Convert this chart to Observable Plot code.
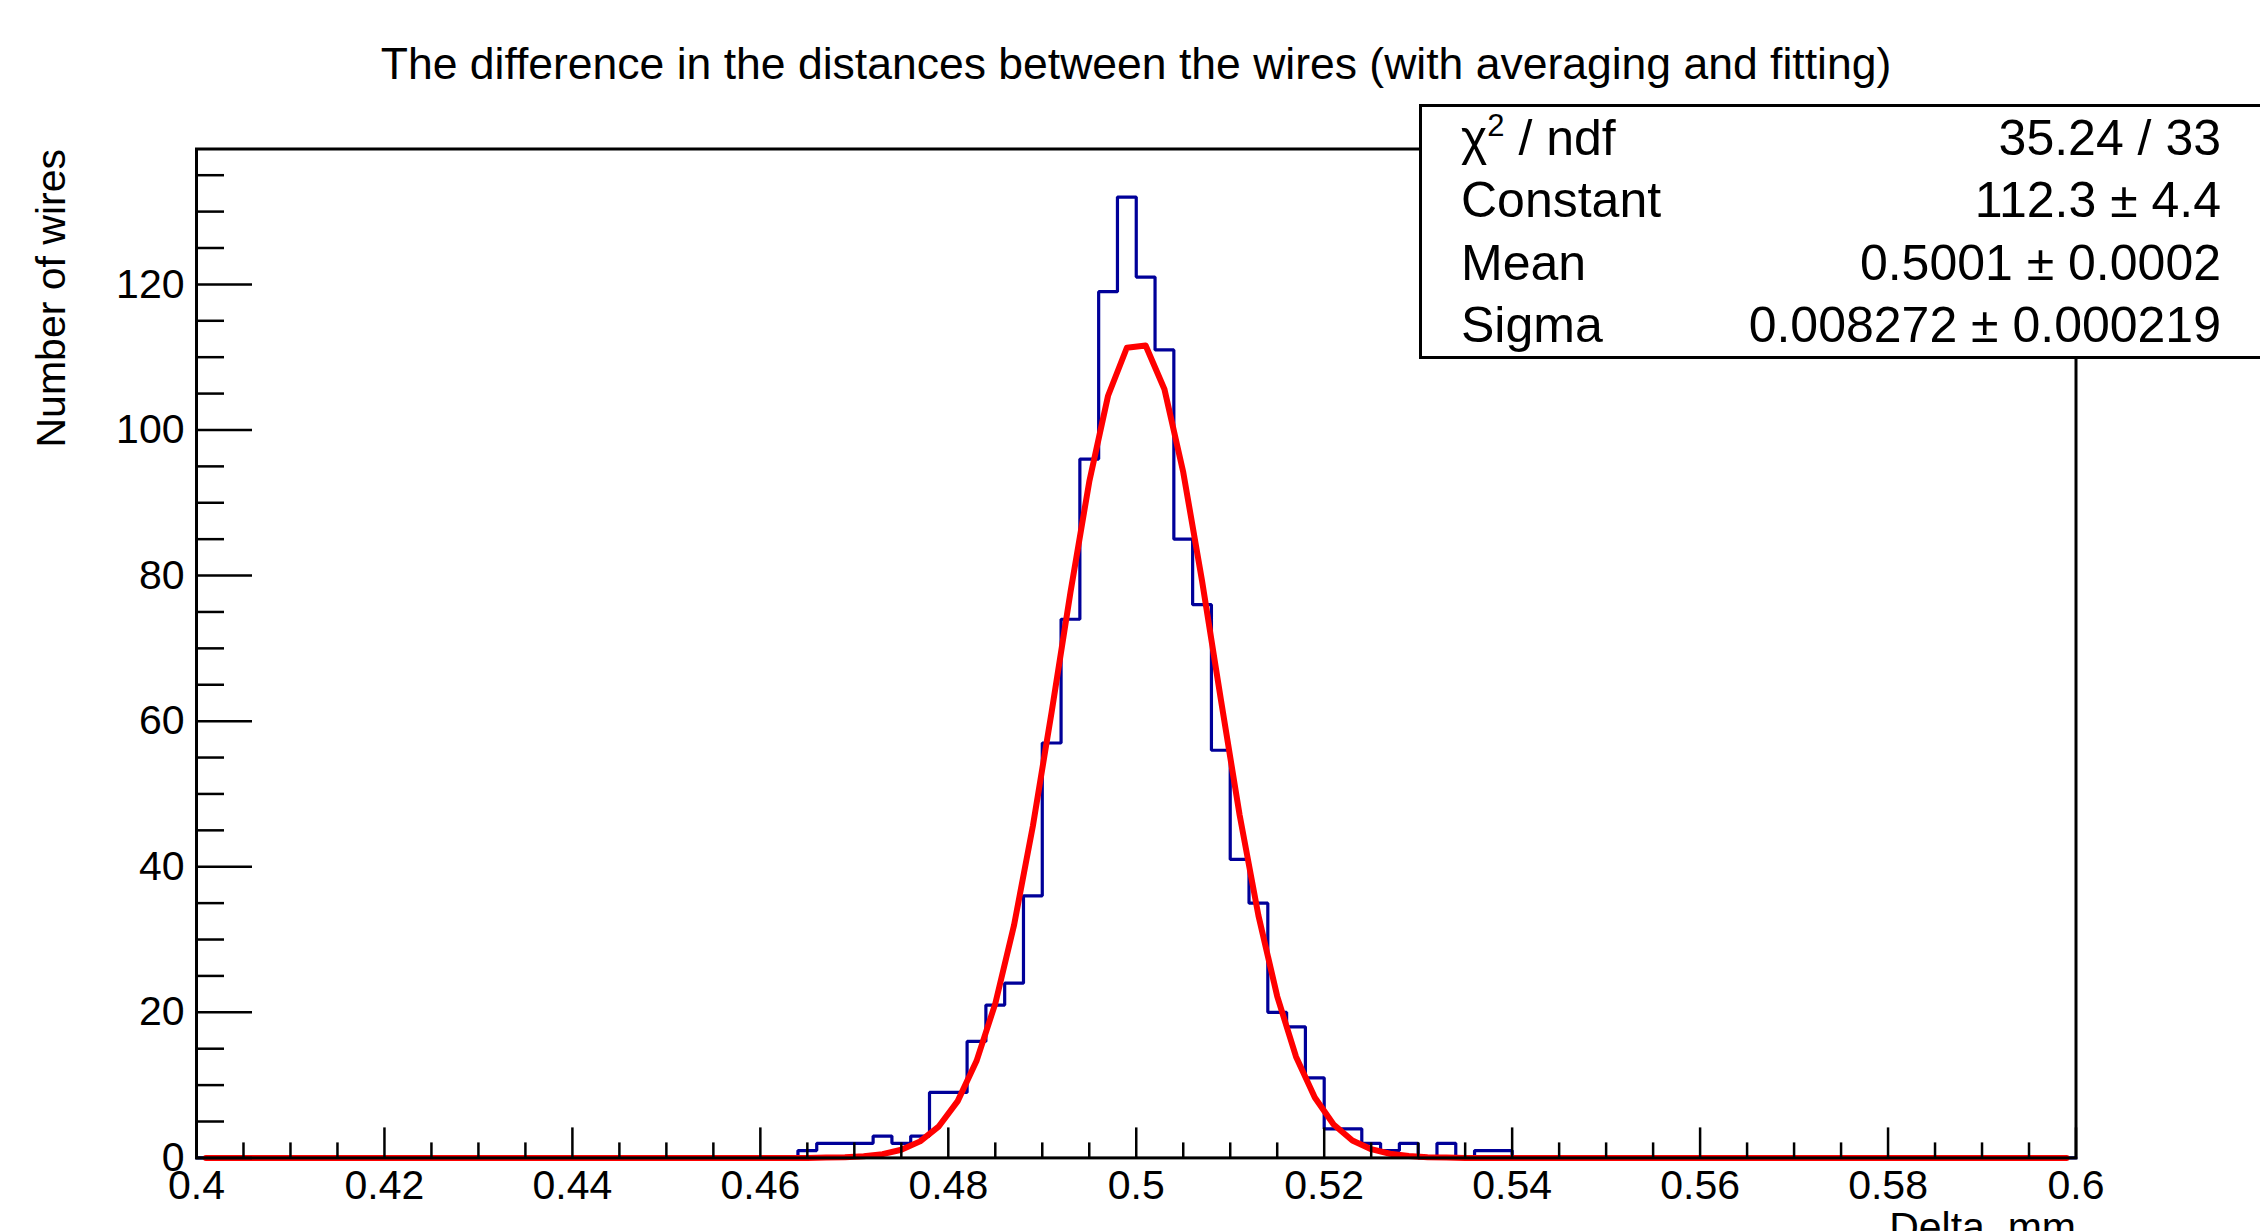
<!DOCTYPE html>
<html>
<head>
<meta charset="utf-8">
<script src="https://cdn.jsdelivr.net/npm/d3@7"></script>
<script src="https://cdn.jsdelivr.net/npm/@observablehq/plot@0.6"></script>
<style>
html, body { margin: 0; padding: 0; background: #fff; overflow: hidden; }
#wrap { position: relative; width: 2260px; height: 1231px; font-family: "Liberation Sans", Arial, sans-serif; color: #000; overflow: hidden; }
#chart { position: absolute; left: 0; top: 0; }
#title { position: absolute; left: 0; width: 2272px; top: 42px; text-align: center; font-size: 44.5px; line-height: 44px; white-space: nowrap; }
#stats { position: absolute; left: 1419px; top: 104px; width: 950px; height: 255px; box-sizing: border-box; border: 3px solid #000; background: #fff; }
.row { position: relative; height: 62.25px; line-height: 62.25px; font-size: 50px; white-space: nowrap; }
.row .k { position: absolute; left: 39px; top: 0; }
.row .v { position: absolute; left: 0; width: 799px; top: 0; text-align: right; }
.row sup { font-size: 0.62em; line-height: 0; vertical-align: 0.62em; }
</style>
</head>
<body>
<div id="wrap">
  <div id="chart"></div>
  <div id="title"></div>
  <div id="stats"></div>
</div>
<script>
// ---- data ----
const titleText = "The difference in the distances between the wires (with averaging and fitting)";
const xLabel = "Delta, mm";
const yLabel = "Number of wires";

// histogram: lower bin edges (bin width 0.002) and counts (non-empty region)
const binLow = [0.464, 0.466, 0.468, 0.470, 0.472, 0.474, 0.476, 0.478, 0.480, 0.482,
                0.484, 0.486, 0.488, 0.490, 0.492, 0.494, 0.496, 0.498, 0.500, 0.502,
                0.504, 0.506, 0.508, 0.510, 0.512, 0.514, 0.516, 0.518, 0.520, 0.522,
                0.524, 0.526, 0.528, 0.530, 0.532, 0.534, 0.536, 0.538];
const counts = [1, 2, 2, 2, 3, 2, 3, 9, 9, 16,
                21, 24, 36, 57, 74, 96, 119, 132, 121, 111,
                85, 76, 56, 41, 35, 20, 18, 11, 4, 4,
                2, 1, 2, 0, 2, 0, 1, 1];
const histStart = 0.4, histEnd = 0.6, lastEdge = 0.540;

// fitted curve vertices as drawn (bin centres)
const fitX = [0.401, 0.465, 0.467, 0.469, 0.471, 0.473, 0.475, 0.477, 0.479, 0.481, 0.483,
              0.485, 0.487, 0.489, 0.491, 0.493, 0.495, 0.497, 0.499, 0.501, 0.503,
              0.505, 0.507, 0.509, 0.511, 0.513, 0.515, 0.517, 0.519, 0.521, 0.523,
              0.525, 0.527, 0.529, 0.531, 0.533, 0.535, 0.599];
const fitY = [0, 0.0, 0.04, 0.10, 0.23, 0.52, 1.12, 2.27, 4.34, 7.8, 13.3,
              21.2, 32.0, 45.6, 61.3, 77.7, 92.9, 104.7, 111.3, 111.6, 105.6,
              94.2, 79.3, 63.0, 47.1, 33.3, 22.2, 13.9, 8.3, 4.6, 2.4,
              1.2, 0.57, 0.25, 0.10, 0.04, 0.0, 0];

// axes
const xMajor = [0.4, 0.42, 0.44, 0.46, 0.48, 0.5, 0.52, 0.54, 0.56, 0.58, 0.6];
const yMajor = [0, 20, 40, 60, 80, 100, 120];
const xDomain = [0.4, 0.6];
const yDomain = [0, 138.6];

// stats box
const statNames = ["χ<sup>2</sup> / ndf", "Constant", "Mean", "Sigma"];
const statValues = ["35.24 / 33", "112.3 ± 4.4", "0.5001 ± 0.0002", "0.008272 ± 0.000219"];

// ---- build ----
const xMinor = d3.range(0, 41).map(i => +(0.4 + i * 0.005).toFixed(3)).filter(v => !xMajor.some(m => Math.abs(m - v) < 1e-9));
const yMinor = d3.range(0, 28).map(i => i * 5).filter(v => v % 20 !== 0);

const histPts = [{x: histStart, y: 0}]
  .concat(binLow.map((x, i) => ({x, y: counts[i]})))
  .concat([{x: lastEdge, y: 0}, {x: histEnd, y: 0}]);
const fitPts = fitX.map((x, i) => ({x, y: fitY[i]}));

const W = 2260, H = 1231;
const chart = Plot.plot({
  width: W,
  height: H,
  marginLeft: 196,
  marginRight: 184.5,
  marginTop: 148.5,
  marginBottom: 73.6,
  style: {fontFamily: "Liberation Sans, Arial, sans-serif", fontSize: "41px", background: "white", color: "black", overflow: "visible"},
  x: {domain: xDomain},
  y: {domain: yDomain},
  marks: [
    Plot.line(histPts, {x: "x", y: "y", curve: "step-after", stroke: "#000099", strokeWidth: 3.2, strokeLinejoin: "miter"}),
    Plot.line(fitPts, {x: "x", y: "y", stroke: "#ff0000", strokeWidth: 6, strokeLinejoin: "round"}),
    // tick marks (inward)
    Plot.axisX(xMajor, {tickSize: -30, tickFormat: () => "", strokeWidth: 2.5, stroke: "black", label: null}),
    Plot.axisX(xMinor, {tickSize: -15, tickFormat: () => "", strokeWidth: 2.5, stroke: "black", label: null}),
    Plot.axisY(yMajor, {tickSize: -56, tickFormat: () => "", strokeWidth: 2.5, stroke: "black", label: null}),
    Plot.axisY(yMinor, {tickSize: -28, tickFormat: () => "", strokeWidth: 2.5, stroke: "black", label: null}),
    // tick labels
    Plot.axisX(xMajor, {tickSize: 0, tickPadding: 12, tickFormat: d => String(d), fontSize: 41, label: null}),
    Plot.axisY(yMajor, {tickSize: 0, tickPadding: 12, tickFormat: d => String(d), fontSize: 41, label: null}),
    Plot.frame({stroke: "black", strokeWidth: 3}),
    // axis titles
    Plot.text([yLabel], {frameAnchor: "top-left", rotate: -90, textAnchor: "end", lineAnchor: "bottom", dx: 64 - 196, dy: 0, fontSize: 41, text: d => d}),
    Plot.text([xLabel], {frameAnchor: "bottom-right", textAnchor: "end", lineAnchor: "bottom", dx: 0, dy: 83, fontSize: 41, text: d => d})
  ]
});
document.getElementById("chart").appendChild(chart);

document.getElementById("title").textContent = titleText;
const stats = document.getElementById("stats");
statNames.forEach((name, i) => {
  const row = document.createElement("div");
  row.className = "row";
  row.innerHTML = `<span class="k">${name}</span><span class="v">${statValues[i]}</span>`;
  stats.appendChild(row);
});
</script>
</body>
</html>
